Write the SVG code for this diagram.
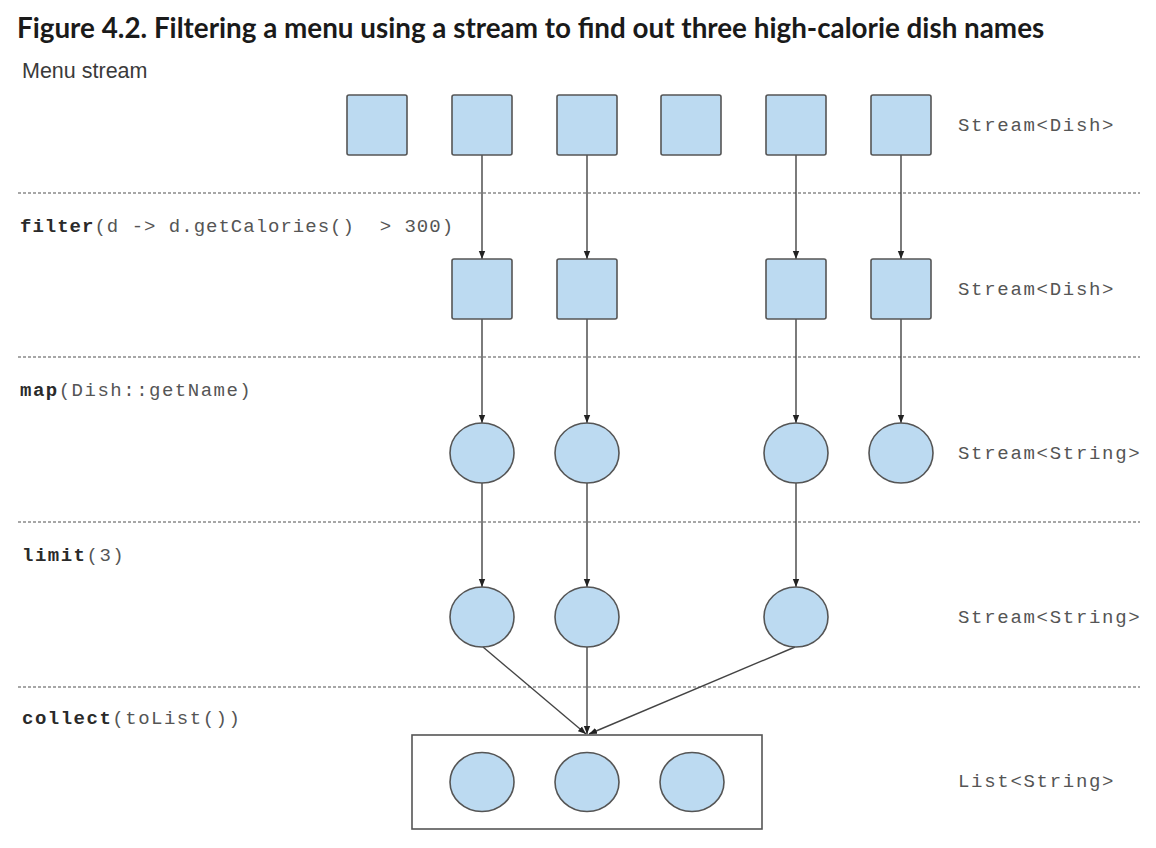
<svg xmlns="http://www.w3.org/2000/svg" width="1156" height="848" viewBox="0 0 1156 848">
<style>
.title{font-family:Lato,"Liberation Sans",sans-serif;font-weight:bold;font-size:27.8px;fill:#1a1a1a}
.menu{font-family:"Liberation Sans",Arial,sans-serif;font-size:21.5px;fill:#3a3a3a}
.code{font-family:"Liberation Mono","Courier New",monospace;font-size:19px;fill:#555;letter-spacing:1.5px}
.code .b{font-weight:bold;fill:#2a2a2a}
.lbl{font-family:"Liberation Mono","Courier New",monospace;font-size:19px;fill:#555;letter-spacing:1.7px}
.sq{fill:#bcdaf1;stroke:#555;stroke-width:1.6}
.ci{fill:#bcdaf1;stroke:#555;stroke-width:1.6}
.dash{stroke:#8a8a8a;stroke-width:1.6;stroke-dasharray:3 2;fill:none}
.edge{stroke:#444;stroke-width:1.4;fill:none;marker-end:url(#ah)}
.box{fill:#fff;stroke:#555;stroke-width:1.6}
</style>
<defs>
<marker id="ah" viewBox="0 0 10 10" refX="10" refY="5" markerWidth="8" markerHeight="8" markerUnits="userSpaceOnUse" orient="auto">
<path d="M0,1 L10,5 L0,9 Z" fill="#222"/>
</marker>
</defs>
<rect width="1156" height="848" fill="#fff"/>
<text class="title" x="17" y="38">Figure 4.2. Filtering a menu using a stream to find out three high-calorie dish names</text>
<text class="menu" x="22" y="78">Menu stream</text>

<g id="separators">
<line class="dash" x1="18" y1="193" x2="1140" y2="193"/>
<line class="dash" x1="18" y1="357" x2="1140" y2="357"/>
<line class="dash" x1="18" y1="522" x2="1140" y2="522"/>
<line class="dash" x1="18" y1="687" x2="1140" y2="687"/>
</g>

<g id="op-labels">
<text class="code" x="20" y="232" xml:space="preserve" style="letter-spacing:1px"><tspan class="b">filter</tspan>(d -&gt; d.getCalories()  &gt; 300)</text>
<text class="code" x="20" y="396"><tspan class="b">map</tspan>(Dish::getName)</text>
<text class="code" x="22" y="561"><tspan class="b">limit</tspan>(3)</text>
<text class="code" x="22" y="724"><tspan class="b">collect</tspan>(toList())</text>
</g>

<g id="type-labels">
<text class="lbl" x="958" y="131">Stream&lt;Dish&gt;</text>
<text class="lbl" x="958" y="295">Stream&lt;Dish&gt;</text>
<text class="lbl" x="958" y="459">Stream&lt;String&gt;</text>
<text class="lbl" x="958" y="623">Stream&lt;String&gt;</text>
<text class="lbl" x="958" y="787">List&lt;String&gt;</text>
</g>

<g id="connectors">
<line class="edge" x1="482" y1="155" x2="482" y2="259"/>
<line class="edge" x1="587" y1="155" x2="587" y2="259"/>
<line class="edge" x1="796" y1="155" x2="796" y2="259"/>
<line class="edge" x1="901" y1="155" x2="901" y2="259"/>
<line class="edge" x1="482" y1="319" x2="482" y2="423"/>
<line class="edge" x1="587" y1="319" x2="587" y2="423"/>
<line class="edge" x1="796" y1="319" x2="796" y2="423"/>
<line class="edge" x1="901" y1="319" x2="901" y2="423"/>
<line class="edge" x1="482" y1="483" x2="482" y2="587"/>
<line class="edge" x1="587" y1="483" x2="587" y2="587"/>
<line class="edge" x1="796" y1="483" x2="796" y2="587"/>
<line class="edge" x1="483" y1="647" x2="586" y2="734"/>
<line class="edge" x1="587" y1="647" x2="587" y2="734"/>
<line class="edge" x1="795" y1="647" x2="589" y2="734"/>
</g>

<g id="menu-stream">
<rect id="d1" class="sq" x="347" y="95" width="60" height="60" rx="2"/>
<rect id="d2" class="sq" x="452" y="95" width="60" height="60" rx="2"/>
<rect id="d3" class="sq" x="557" y="95" width="60" height="60" rx="2"/>
<rect id="d4" class="sq" x="661" y="95" width="60" height="60" rx="2"/>
<rect id="d5" class="sq" x="766" y="95" width="60" height="60" rx="2"/>
<rect id="d6" class="sq" x="871" y="95" width="60" height="60" rx="2"/>
</g>

<g id="filtered">
<rect id="f1" class="sq" x="452" y="259" width="60" height="60" rx="2"/>
<rect id="f2" class="sq" x="557" y="259" width="60" height="60" rx="2"/>
<rect id="f3" class="sq" x="766" y="259" width="60" height="60" rx="2"/>
<rect id="f4" class="sq" x="871" y="259" width="60" height="60" rx="2"/>
</g>

<g id="mapped">
<ellipse id="m1" class="ci" cx="482" cy="453" rx="32" ry="30"/>
<ellipse id="m2" class="ci" cx="587" cy="453" rx="32" ry="30"/>
<ellipse id="m3" class="ci" cx="796" cy="453" rx="32" ry="30"/>
<ellipse id="m4" class="ci" cx="901" cy="453" rx="32" ry="30"/>
</g>

<g id="limited">
<ellipse id="l1" class="ci" cx="482" cy="617" rx="32" ry="30"/>
<ellipse id="l2" class="ci" cx="587" cy="617" rx="32" ry="30"/>
<ellipse id="l3" class="ci" cx="796" cy="617" rx="32" ry="30"/>
</g>

<g id="list">
<rect class="box" x="412" y="735" width="350" height="94"/>
<ellipse id="c1" class="ci" cx="482" cy="782" rx="32" ry="29.5"/>
<ellipse id="c2" class="ci" cx="587" cy="782" rx="32" ry="29.5"/>
<ellipse id="c3" class="ci" cx="692" cy="782" rx="32" ry="29.5"/>
</g>
</svg>
